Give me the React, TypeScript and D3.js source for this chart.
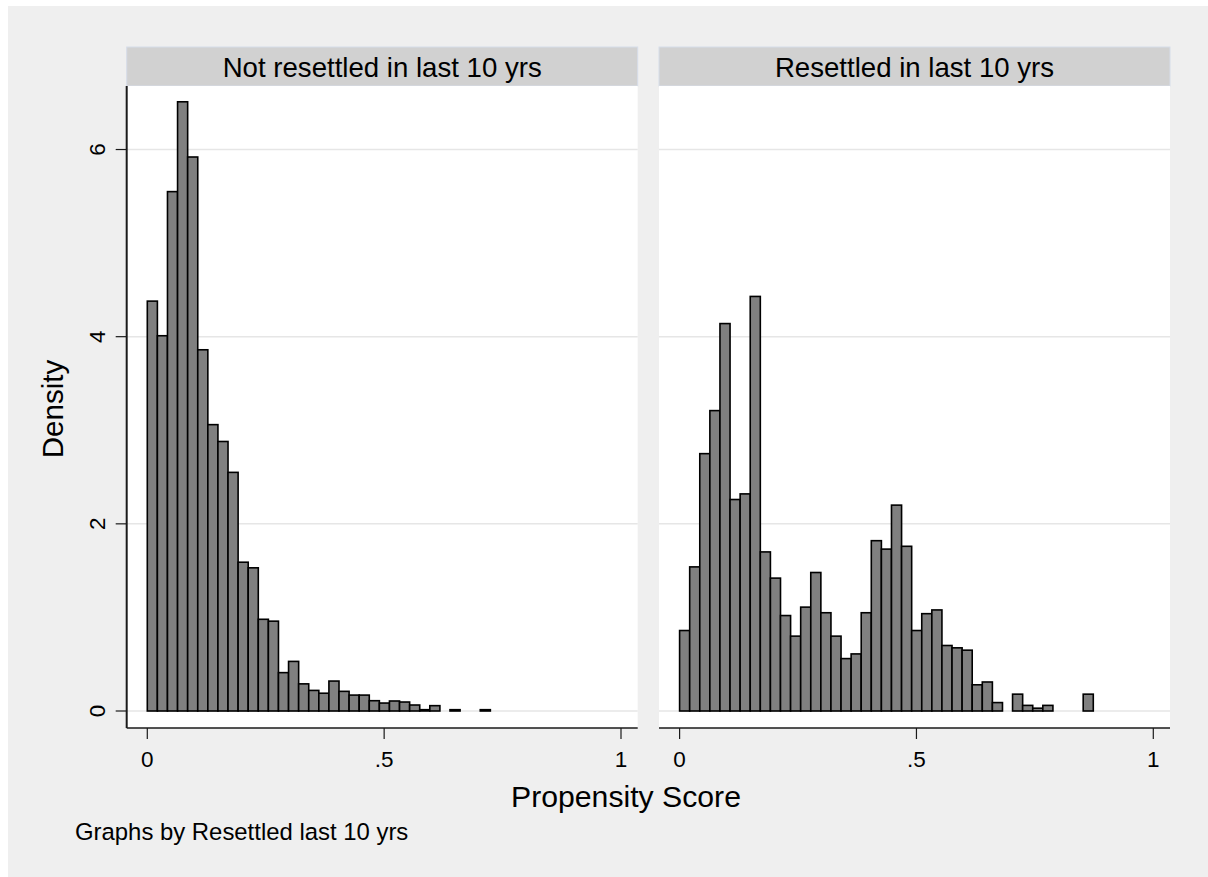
import React, { useRef, useEffect } from "react";
import * as d3 from "d3";

// density per bin, bins start at 0
const binWidth = 0.0213;
const notResettled = [
  4.38, 4.01, 5.55, 6.51, 5.92, 3.86, 3.06, 2.88, 2.55, 1.59, 1.53, 0.98,
  0.96, 0.41, 0.53, 0.29, 0.22, 0.19, 0.32, 0.21, 0.17, 0.17, 0.11, 0.085,
  0.107, 0.096, 0.064, 0.014, 0.057, 0, 0.014, 0, 0, 0.014
];
const resettled = [
  0.86, 1.54, 2.75, 3.21, 4.14, 2.26, 2.32, 4.43, 1.7, 1.42, 1.02, 0.8,
  1.11, 1.48, 1.05, 0.8, 0.56, 0.61, 1.05, 1.82, 1.73, 2.2, 1.76, 0.86,
  1.04, 1.08, 0.7, 0.675, 0.65, 0.28, 0.31, 0.09, 0, 0.18, 0.06, 0.03,
  0.06, 0, 0, 0, 0.18
];
const panelTitles = ["Not resettled in last 10 yrs", "Resettled in last 10 yrs"];
const xTicks = [0, 0.5, 1];
const xTickLabels = ["0", ".5", "1"];
const yTicks = [0, 2, 4, 6];

const FONT = "'Liberation Sans', Arial, Helvetica, sans-serif";

export default function App() {
  const svgRef = useRef(null);

  useEffect(() => {
    const svg = d3.select(svgRef.current);
    svg.selectAll("*").remove();

    const W = 1208, H = 877;
    svg.append("rect").attr("width", W).attr("height", H).attr("fill", "#fff");
    svg.append("rect").attr("x", 8).attr("y", 6).attr("width", W - 8).attr("height", H - 6)
      .attr("fill", "#efefef");

    const headTop = 47, plotTop = 86, plotBottom = 728;
    const panelW = 511;
    const panelsX = [126.7, 659];
    const y = d3.scaleLinear().domain([0, 6]).range([711, 711 - 6 * 93.58]);

    const datasets = [notResettled, resettled];

    panelsX.forEach((px, p) => {
      const x = d3.scaleLinear().domain([0, 1]).range([px + 20.6, px + 20.6 + 473.7]);
      const g = svg.append("g");

      // header strip
      g.append("rect")
        .attr("x", px).attr("y", headTop)
        .attr("width", panelW).attr("height", plotTop - headTop)
        .attr("fill", "#d1d1d1").attr("stroke", "#d6dde9").attr("stroke-width", 1);
      g.append("text")
        .attr("x", px + panelW / 2).attr("y", 76.5)
        .attr("text-anchor", "middle")
        .style("font-family", FONT).style("font-size", "27.6px").style("fill", "#000")
        .text(panelTitles[p]);

      // plot region
      g.append("rect")
        .attr("x", px).attr("y", plotTop)
        .attr("width", panelW).attr("height", plotBottom - plotTop)
        .attr("fill", "#fff");

      g.selectAll("line.grid")
        .data(yTicks)
        .enter().append("line")
        .attr("class", "grid")
        .attr("x1", px).attr("x2", px + panelW)
        .attr("y1", d => y(d)).attr("y2", d => y(d))
        .attr("stroke", "#e6e6e6").attr("stroke-width", 1.5);

      // bars
      const bins = datasets[p]
        .map((v, i) => ({ x0: i * binWidth, x1: (i + 1) * binWidth, v }))
        .filter(b => b.v > 0);
      g.selectAll("rect.bar")
        .data(bins)
        .enter().append("rect")
        .attr("class", "bar")
        .attr("x", d => x(d.x0))
        .attr("width", d => x(d.x1) - x(d.x0))
        .attr("y", d => y(d.v))
        .attr("height", d => y(0) - y(d.v))
        .attr("fill", "#808080")
        .attr("stroke", "#000")
        .attr("stroke-width", 1.6);

      // x axis
      g.append("line")
        .attr("x1", px).attr("x2", px + panelW)
        .attr("y1", plotBottom).attr("y2", plotBottom)
        .attr("stroke", "#1a1a1a").attr("stroke-width", 1.5);
      g.selectAll("line.xtick")
        .data(xTicks)
        .enter().append("line")
        .attr("class", "xtick")
        .attr("x1", d => x(d)).attr("x2", d => x(d))
        .attr("y1", plotBottom).attr("y2", plotBottom + 11)
        .attr("stroke", "#1a1a1a").attr("stroke-width", 1.2);
      g.selectAll("text.xlab")
        .data(xTicks)
        .enter().append("text")
        .attr("class", "xlab")
        .attr("x", d => x(d)).attr("y", 767)
        .attr("text-anchor", "middle")
        .style("font-family", FONT).style("font-size", "22.5px")
        .text((d, i) => xTickLabels[i]);

      if (p === 0) {
        g.append("line")
          .attr("x1", px).attr("x2", px)
          .attr("y1", plotTop).attr("y2", plotBottom)
          .attr("stroke", "#1a1a1a").attr("stroke-width", 2);
        g.selectAll("line.ytick")
          .data(yTicks)
          .enter().append("line")
          .attr("class", "ytick")
          .attr("x1", px - 11).attr("x2", px)
          .attr("y1", d => y(d)).attr("y2", d => y(d))
          .attr("stroke", "#1a1a1a").attr("stroke-width", 1.2);
        g.selectAll("text.ylab")
          .data(yTicks)
          .enter().append("text")
          .attr("class", "ylab")
          .attr("transform", d => `translate(105,${y(d)}) rotate(-90)`)
          .attr("text-anchor", "middle")
          .style("font-family", FONT).style("font-size", "22.5px")
          .text(d => d);
      }
    });

    svg.append("text")
      .attr("transform", "translate(63,409) rotate(-90)")
      .attr("text-anchor", "middle")
      .style("font-family", FONT).style("font-size", "29.5px")
      .text("Density");

    svg.append("text")
      .attr("x", 626).attr("y", 807)
      .attr("text-anchor", "middle")
      .style("font-family", FONT).style("font-size", "30.2px")
      .text("Propensity Score");

    svg.append("text")
      .attr("x", 75).attr("y", 840)
      .style("font-family", FONT).style("font-size", "23.9px")
      .text("Graphs by Resettled last 10 yrs");
  }, []);

  return (
    <svg
      ref={svgRef}
      width={1208}
      height={877}
      style={{ position: "absolute", left: 0, top: 0, display: "block" }}
    />
  );
}
